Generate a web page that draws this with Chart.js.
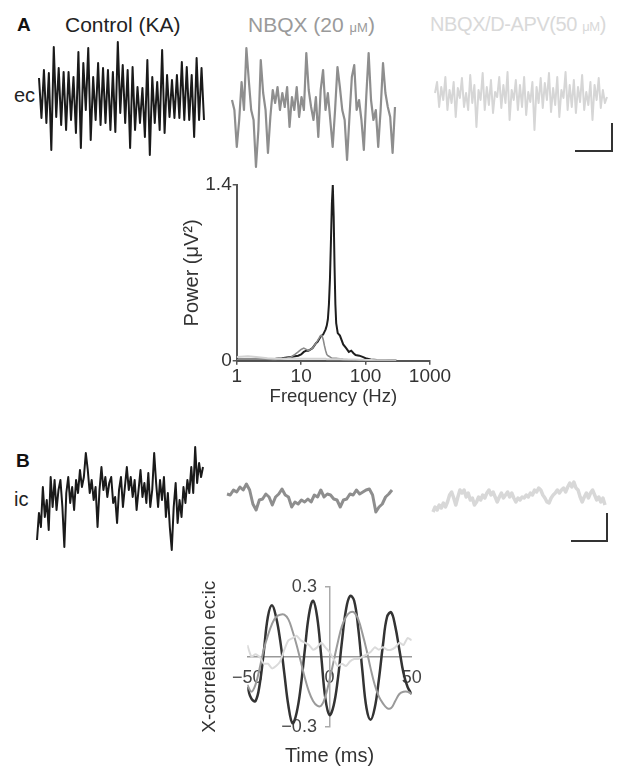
<!DOCTYPE html>
<html><head><meta charset="utf-8">
<script src="https://cdn.jsdelivr.net/npm/chart.js@4.4.0/dist/chart.umd.min.js"></script>
<style>
html,body{margin:0;padding:0;background:#fff;}
body{width:632px;height:769px;position:relative;overflow:hidden;font-family:"Liberation Sans",Arial,sans-serif;}
.t{position:absolute;white-space:nowrap;line-height:1;}
canvas{position:absolute;}
.sb{position:absolute;background:#333;}
</style></head><body>
<div class="t" style="left:17px;top:14.9px;font-size:19px;font-weight:bold;color:#111">A</div>
<div class="t" style="left:65px;top:14px;font-size:21px;color:#222">Control (KA)</div>
<div class="t" style="left:248px;top:14px;font-size:21px;color:#9a9a9a">NBQX (20 <span style="font-size:13px">μM</span>)</div>
<div class="t" style="left:430px;top:14px;font-size:20px;letter-spacing:-0.4px;color:#d9d9d9">NBQX/D-APV(50 <span style="font-size:13px">μM</span>)</div>
<div class="t" style="left:14px;top:84.8px;font-size:20px;color:#222">ec</div>
<div class="t" style="left:16px;top:450.6px;font-size:19px;font-weight:bold;color:#111">B</div>
<div class="t" style="left:14px;top:488.8px;font-size:20px;color:#222">ic</div>
<div class="sb" style="left:611px;top:123px;width:2px;height:29px"></div>
<div class="sb" style="left:575px;top:150px;width:38px;height:2px"></div>
<div class="sb" style="left:606px;top:513px;width:2px;height:29px"></div>
<div class="sb" style="left:571px;top:540px;width:37px;height:2px"></div>
<script>
// ---- data: traces (µV, arbitrary units) ----
const ctrlEc = [20,-20,28,-25,25,-52,51,-19,30,-27,26,-32,26,-22,21,-35,46,-50,35,-12,50,-42,21,-22,35,-27,30,-25,28,-32,26,-34,56,-15,33,-25,28,-50,31,-32,11,-25,10,-39,38,-57,21,-25,16,-32,48,-35,23,-19,18,-20,23,-20,36,-22,31,-22,23,-39,40,-22,30,-22];
const nbqxEc = [7,-3,-40,-13,25,-3,59,27,-3,-13,-60,-23,47,14,-3,-46,-10,17,4,20,-3,14,0,20,-20,10,-3,20,-10,10,-3,54,17,0,-13,10,-30,17,37,-3,14,-13,-40,-3,40,20,-3,-13,-53,-10,30,42,-3,7,-13,-43,10,54,7,-13,-3,-40,-3,44,14,0,-10,-46,0];
const apvEc = [2,13,-12,8,-5,18,-15,5,-8,13,-22,7,-3,17,-12,2,-15,20,-8,10,-32,5,-5,22,-15,8,-10,15,-18,3,-2,18,-13,10,-8,23,-25,5,-5,15,-15,10,-12,18,-20,3,-7,13,-35,8,-8,17,-13,12,-5,22,-17,7,-10,18,-22,5,-3,23,-15,10,-12,15,-18,8,-7,20,-15,3,-10,13,-25,10,-5,17,-13,5,-8,-2];
const ctrlIc = [-40,-13,-27,13,-17,0,-30,23,-7,20,-10,10,20,-7,-47,7,23,-3,13,-10,20,7,30,13,23,47,30,7,20,0,13,-27,10,33,10,23,3,17,23,-3,3,-23,10,23,-7,13,33,10,23,3,20,-10,10,30,3,17,-3,27,-7,10,47,17,-7,20,0,23,-17,7,-27,-50,-7,17,-23,0,-17,13,-3,20,7,33,7,53,17,37,23,33];
const nbqxIc = [3,2,7,5,10,7,13,7,-7,-13,-3,-2,3,0,-8,0,3,8,2,0,-10,-5,-7,-3,-5,-2,-5,2,0,7,0,3,2,-2,-3,-10,-3,-2,3,2,7,3,5,7,8,2,-15,-10,-7,0,3,7];
const apvIc = [-12,-7,-10,-5,-8,-3,-7,-2,5,8,2,-5,3,10,7,10,3,7,0,2,-5,-2,3,0,5,2,7,10,5,8,3,-2,3,7,2,5,8,3,7,2,-2,2,0,3,2,5,3,7,5,10,8,12,10,5,2,-2,-3,2,5,7,10,7,10,12,8,13,17,13,18,12,10,3,-2,3,7,2,7,10,5,0,3,-2,2,-5];

// ---- data: power spectrum ----
const freqHz   = [1,1.5,2,3,4,5,6,7,8,9,10,11,12,13,14,15,16,17,18,19,20,21,22,23,24,25,26,27,28,29,30,31,32,33,34,35,37,40,45,50,55,60,65,70,80,90,100,120,150,200,250,300];
const ctrlPower = [0.01,0.01,0.01,0.01,0.015,0.02,0.025,0.03,0.035,0.04, 0.05,0.07,0.08,0.08,0.09,0.1,0.12,0.14,0.15,0.17, 0.19,0.2,0.21,0.23,0.25,0.28,0.33,0.45,0.65,0.95, 1.25,1.4,1.15,0.75,0.45,0.3,0.22,0.2,0.13,0.1, 0.07,0.08,0.06,0.045,0.04,0.03,0.02,0.01,0.005,0.003, 0.002,0.001];
const nbqxPower = [0.01,0.01,0.01,0.01,0.01,0.015,0.02,0.03,0.05,0.07, 0.09,0.1,0.09,0.08,0.09,0.1,0.12,0.14,0.16,0.18, 0.2,0.2,0.17,0.12,0.08,0.05,0.04,0.035,0.03,0.025, 0.02,0.02,0.02,0.02,0.02,0.02,0.018,0.015,0.012,0.01, 0.008,0.007,0.006,0.005,0.004,0.003,0.002,0.001,0.001,0.001, 0.001,0.001];
const apvPower  = [0.03,0.035,0.03,0.02,0.015,0.015,0.015,0.015,0.015,0.015, 0.015,0.015,0.015,0.015,0.015,0.015,0.015,0.015,0.015,0.015, 0.015,0.015,0.015,0.015,0.015,0.012,0.012,0.012,0.012,0.012, 0.012,0.012,0.012,0.012,0.012,0.012,0.012,0.012,0.01,0.01, 0.01,0.01,0.01,0.01,0.008,0.008,0.006,0.005,0.004,0.003, 0.002,0.001];
const powerXTicks = [1,10,100,1000];
const powerYTicks = [0,1.4];

// ---- data: cross-correlation ec:ic ----
const lagMs = [-50,-47.5,-45,-42.5,-40,-37.5,-35,-32.5,-30,-27.5,-25,-22.5,-20,-17.5,-15,-12.5,-10,-7.5,-5,-2.5,0,2.5,5,7.5,10,12.5,15,17.5,20,22.5,25,27.5,30,32.5,35,37.5,40,42.5,45,47.5,50];
const ctrlXcorr = [-0.13,-0.18,-0.19,-0.12,0.02,0.17,0.22,0.17,0.07,-0.07,-0.21,-0.285,-0.24,-0.13,0.03,0.18,0.24,0.17,0.0,-0.18,-0.25,-0.21,-0.1,0.06,0.2,0.26,0.24,0.12,-0.06,-0.22,-0.27,-0.22,-0.1,0.05,0.17,0.19,0.13,0.03,-0.07,-0.13,-0.16];
const nbqxXcorr = [-0.12,-0.15,-0.12,-0.05,0.03,0.09,0.14,0.17,0.18,0.18,0.16,0.11,0.05,-0.02,-0.09,-0.15,-0.19,-0.21,-0.21,-0.17,-0.1,-0.02,0.06,0.13,0.17,0.19,0.19,0.16,0.1,0.03,-0.05,-0.12,-0.17,-0.2,-0.22,-0.22,-0.19,-0.16,-0.15,-0.15,-0.16];
const apvXcorr  = [0.05,0.0,0.01,0.0,-0.03,-0.03,-0.05,-0.04,-0.02,0.03,0.07,0.08,0.09,0.07,0.06,0.05,0.03,0.04,0.06,0.04,0.02,-0.01,-0.04,-0.03,-0.04,-0.02,-0.01,-0.01,0.0,0.01,0.02,0.04,0.03,0.04,0.03,0.03,0.04,0.06,0.05,0.08,0.07];
const corrXTicks = [-50,0,50];
const corrYTicks = [-0.3,0.3];

// ---- rendering ----
Chart.defaults.font.family = '"Liberation Sans", Arial, sans-serif';
Chart.defaults.color = '#333';
Chart.defaults.animation = false;
Chart.defaults.events = [];
Chart.defaults.plugins.legend.display = false;
Chart.defaults.plugins.tooltip.enabled = false;

function mkCanvas(left, top, w, h) {
  const c = document.createElement('canvas');
  c.width = w; c.height = h;
  c.style.left = left + 'px'; c.style.top = top + 'px';
  c.style.width = w + 'px'; c.style.height = h + 'px';
  document.body.appendChild(c);
  return c;
}
function zeroPad(s) { s.paddingLeft = 0; s.paddingRight = 0; s.paddingTop = 0; s.paddingBottom = 0; }
const minus = v => (v < 0 ? '\u2212' + String(Math.abs(v)) : String(v));
const xy = (xs, ys) => xs.map((x, i) => ({x: x, y: ys[i]}));

function trace(vals, box, yRange, color, width) {
  const pad = 4;
  const c = mkCanvas(box.left - pad, box.top - pad, box.w + 2 * pad, box.h + 2 * pad);
  new Chart(c, {
    type: 'line',
    data: { labels: vals.map((_, i) => i),
      datasets: [{ data: vals, borderColor: color, borderWidth: width, pointRadius: 0, tension: 0, clip: pad, borderJoinStyle: 'round' }] },
    options: { responsive: false, devicePixelRatio: 1, layout: { padding: pad },
      scales: { x: { display: false, offset: false }, y: { display: false, min: yRange[0], max: yRange[1] } } }
  });
}

trace(ctrlEc, {left: 39, top: 40, w: 165, h: 117}, [-59, 58], '#1a1a1a', 2);
trace(nbqxEc, {left: 232, top: 46, w: 163, h: 124}, [-63, 61], '#8e8e8e', 2.2);
trace(apvEc,  {left: 435, top: 66, w: 172, h: 68}, [-39, 29], '#d6d6d6', 2);
trace(ctrlIc, {left: 37, top: 444, w: 166, h: 109}, [-53, 56], '#1a1a1a', 2);
trace(nbqxIc, {left: 227, top: 478, w: 165, h: 40}, [-21, 19], '#8e8e8e', 3);
trace(apvIc,  {left: 433, top: 476, w: 172, h: 48}, [-24, 24], '#d8d8d8', 3.5);

// Power spectrum
new Chart(mkCanvas(170, 170, 290, 250), {
  type: 'line',
  data: { datasets: [
    { data: xy(freqHz, apvPower),  borderColor: '#d2d2d2', borderWidth: 2,   pointRadius: 0, tension: 0 },
    { data: xy(freqHz, nbqxPower), borderColor: '#8a8a8a', borderWidth: 1.6, pointRadius: 0, tension: 0 },
    { data: xy(freqHz, ctrlPower), borderColor: '#1e1e1e', borderWidth: 2,   pointRadius: 0, tension: 0 }
  ]},
  options: {
    responsive: false, devicePixelRatio: 1,
    layout: { padding: { top: 15, right: 30, bottom: 0, left: 0 } },
    scales: {
      x: { type: 'logarithmic', min: 1, max: 1000,
        afterBuildTicks: s => { s.ticks = powerXTicks.map(v => ({ value: v })); },
        afterFit: s => { s.height = 59.3; zeroPad(s); },
        ticks: { callback: v => String(v), font: { size: 19 }, color: '#333', padding: 1, maxRotation: 0, autoSkip: false },
        grid: { display: true, drawOnChartArea: false, drawTicks: true, tickLength: 4, color: '#555', lineWidth: 1.5 },
        border: { display: true, color: '#555', width: 2 },
        title: { display: true, text: 'Frequency (Hz)', font: { size: 18.5 }, color: '#333', padding: { top: 0, bottom: 12.4 } } },
      y: { type: 'linear', min: 0, max: 1.4,
        afterBuildTicks: s => { s.ticks = powerYTicks.map(v => ({ value: v })); },
        afterFit: s => { s.width = 66.7; zeroPad(s); },
        ticks: { callback: v => String(v), font: { size: 19 }, color: '#333', padding: 1, autoSkip: false },
        grid: { display: true, drawOnChartArea: false, drawTicks: true, tickLength: 4, color: '#555', lineWidth: 1.5 },
        border: { display: true, color: '#555', width: 2 },
        title: { display: true, text: 'Power (\u03BCV\u00B2)', font: { size: 20 }, color: '#333', padding: { top: 10, bottom: 0 } } }
    }
  }
});

// Cross-correlation
new Chart(mkCanvas(190, 570, 250, 199), {
  type: 'line',
  data: { datasets: [
    { data: xy(lagMs, apvXcorr),  borderColor: '#dadada', borderWidth: 2,   pointRadius: 0, tension: 0.2, xAxisID: 'x', yAxisID: 'y' },
    { data: xy(lagMs, nbqxXcorr), borderColor: '#9a9a9a', borderWidth: 2,   pointRadius: 0, tension: 0.4, xAxisID: 'x', yAxisID: 'y' },
    { data: xy(lagMs, ctrlXcorr), borderColor: '#333333', borderWidth: 2.5, pointRadius: 0, tension: 0.4, xAxisID: 'x', yAxisID: 'y' }
  ]},
  options: {
    responsive: false, devicePixelRatio: 1,
    layout: { padding: { top: 16.7, right: 28.3, bottom: 0, left: 0 } },
    scales: {
      x: { type: 'linear', position: { y: 0 }, min: -50, max: 50, z: 1,
        afterBuildTicks: s => { s.ticks = corrXTicks.map(v => ({ value: v })); },
        afterFit: s => { s.height = 0; zeroPad(s); },
        ticks: { callback: v => minus(v), font: { size: 18 }, color: '#444', padding: 11, maxRotation: 0, autoSkip: false },
        grid: { display: false, drawTicks: false },
        border: { display: true, color: '#999', width: 1.5 } },
      y: { type: 'linear', position: { x: 0 }, min: -0.3, max: 0.3, z: 1,
        afterBuildTicks: s => { s.ticks = corrYTicks.map(v => ({ value: v })); },
        afterFit: s => { s.width = 0; zeroPad(s); },
        // labels sit left of the centred axis: pad them with an en space + thin space
        ticks: { callback: v => minus(v) + '\u2002\u2009', font: { size: 18 }, color: '#444', padding: 9, autoSkip: false },
        grid: { display: true, drawOnChartArea: false, drawTicks: true, tickLength: 4, color: '#aaa', lineWidth: 1.5 },
        border: { display: true, color: '#aaa', width: 1.5 } },
      xt: { type: 'linear', position: 'bottom', min: 0, max: 1,
        afterFit: s => { s.height = 42.3; zeroPad(s); },
        ticks: { display: false }, grid: { display: false }, border: { display: false },
        title: { display: true, text: 'Time (ms)', font: { size: 20 }, color: '#333', padding: { top: 0, bottom: 1 } } },
      yt: { type: 'linear', position: 'left', min: 0, max: 1,
        afterFit: s => { s.width = 57.3; zeroPad(s); },
        ticks: { display: false }, grid: { display: false }, border: { display: false },
        title: { display: true, text: 'X-correlation ec:ic', font: { size: 19 }, color: '#333', padding: { top: 8.6, bottom: 0 } } }
    }
  }
});
</script>
</body></html>
